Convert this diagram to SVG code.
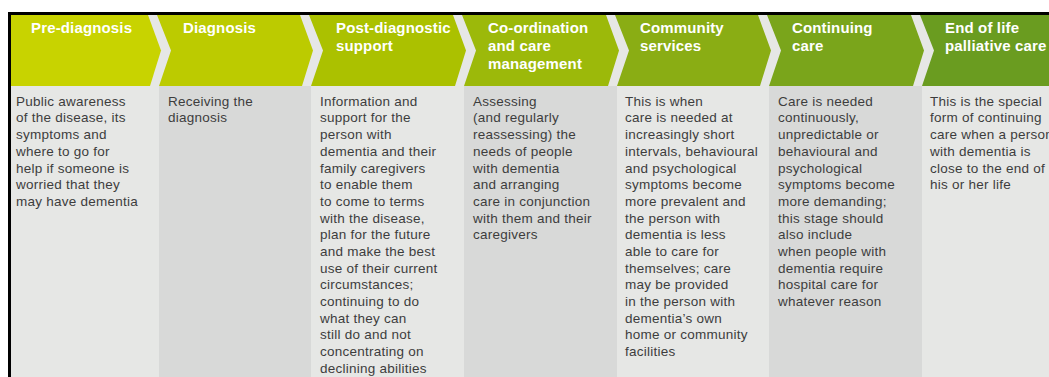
<svg xmlns="http://www.w3.org/2000/svg" width="1049" height="377" viewBox="0 0 1049 377">
  <style>
    .hd { font-family: "Liberation Sans", Arial, sans-serif; font-size: 15px; font-weight: bold; fill: #ffffff; letter-spacing: 0.15px; }
    .bd { font-family: "Liberation Sans", Arial, sans-serif; font-size: 13.5px; fill: #3d3d3d; letter-spacing: 0.25px; }
    .light { fill: #e6e7e5; }
    .dark { fill: #d8d9d8; }
  </style>

  <!-- page background and frame -->
  <rect x="0" y="0" width="1049" height="377" fill="#ffffff"/>
  <rect x="11" y="15" width="1038" height="362" class="light"/>
  <rect x="8" y="12" width="1041" height="3" fill="#000000"/>
  <rect x="8" y="12" width="3" height="365" fill="#000000"/>

  <!-- alternating darker column bodies -->
  <rect x="159" y="86" width="152" height="291" class="dark"/>
  <rect x="464" y="86" width="153" height="291" class="dark"/>
  <rect x="769" y="86" width="153" height="291" class="dark"/>

  <g id="stage-pre-diagnosis">
    <polygon points="11,15 148,15 161,50.5 150,86 11,86" fill="#c8d300"/>
    <text class="hd" x="31" y="33.3">Pre-diagnosis</text>
    <text class="bd" x="16" y="105.7">
      <tspan x="16">Public awareness</tspan>
      <tspan x="16" dy="16.7">of the disease, its</tspan>
      <tspan x="16" dy="16.7">symptoms and</tspan>
      <tspan x="16" dy="16.7">where to go for</tspan>
      <tspan x="16" dy="16.7">help if someone is</tspan>
      <tspan x="16" dy="16.7">worried that they</tspan>
      <tspan x="16" dy="16.7">may have dementia</tspan>
    </text>
  </g>

  <g id="stage-diagnosis">
    <polygon points="157,15 300,15 313,50.5 302,86 159,86 171,50.5" fill="#bccb00"/>
    <text class="hd" x="183" y="33.3">Diagnosis</text>
    <text class="bd" x="168" y="105.7">
      <tspan x="168">Receiving the</tspan>
      <tspan x="168" dy="16.7">diagnosis</tspan>
    </text>
  </g>

  <g id="stage-post-diagnostic">
    <polygon points="309,15 453,15 466,50.5 455,86 311,86 323,50.5" fill="#abc100"/>
    <text class="hd" x="336" y="33.3">
      <tspan x="336">Post-diagnostic</tspan>
      <tspan x="336" dy="18">support</tspan>
    </text>
    <text class="bd" x="320" y="105.7">
      <tspan x="320">Information and</tspan>
      <tspan x="320" dy="16.7">support for the</tspan>
      <tspan x="320" dy="16.7">person with</tspan>
      <tspan x="320" dy="16.7">dementia and their</tspan>
      <tspan x="320" dy="16.7">family caregivers</tspan>
      <tspan x="320" dy="16.7">to enable them</tspan>
      <tspan x="320" dy="16.7">to come to terms</tspan>
      <tspan x="320" dy="16.7">with the disease,</tspan>
      <tspan x="320" dy="16.7">plan for the future</tspan>
      <tspan x="320" dy="16.7">and make the best</tspan>
      <tspan x="320" dy="16.7">use of their current</tspan>
      <tspan x="320" dy="16.7">circumstances;</tspan>
      <tspan x="320" dy="16.7">continuing to do</tspan>
      <tspan x="320" dy="16.7">what they can</tspan>
      <tspan x="320" dy="16.7">still do and not</tspan>
      <tspan x="320" dy="16.7">concentrating on</tspan>
      <tspan x="320" dy="16.7">declining abilities</tspan>
    </text>
  </g>

  <g id="stage-coordination">
    <polygon points="462,15 606,15 619,50.5 608,86 464,86 476,50.5" fill="#9cb90a"/>
    <text class="hd" x="488" y="33.3">
      <tspan x="488">Co-ordination</tspan>
      <tspan x="488" dy="18">and care</tspan>
      <tspan x="488" dy="18">management</tspan>
    </text>
    <text class="bd" x="473" y="105.7">
      <tspan x="473">Assessing</tspan>
      <tspan x="473" dy="16.7">(and regularly</tspan>
      <tspan x="473" dy="16.7">reassessing) the</tspan>
      <tspan x="473" dy="16.7">needs of people</tspan>
      <tspan x="473" dy="16.7">with dementia</tspan>
      <tspan x="473" dy="16.7">and arranging</tspan>
      <tspan x="473" dy="16.7">care in conjunction</tspan>
      <tspan x="473" dy="16.7">with them and their</tspan>
      <tspan x="473" dy="16.7">caregivers</tspan>
    </text>
  </g>

  <g id="stage-community">
    <polygon points="615,15 758,15 771,50.5 760,86 617,86 629,50.5" fill="#8aad14"/>
    <text class="hd" x="640" y="33.3">
      <tspan x="640">Community</tspan>
      <tspan x="640" dy="18">services</tspan>
    </text>
    <text class="bd" x="625" y="105.7">
      <tspan x="625">This is when</tspan>
      <tspan x="625" dy="16.7">care is needed at</tspan>
      <tspan x="625" dy="16.7">increasingly short</tspan>
      <tspan x="625" dy="16.7">intervals, behavioural</tspan>
      <tspan x="625" dy="16.7">and psychological</tspan>
      <tspan x="625" dy="16.7">symptoms become</tspan>
      <tspan x="625" dy="16.7">more prevalent and</tspan>
      <tspan x="625" dy="16.7">the person with</tspan>
      <tspan x="625" dy="16.7">dementia is less</tspan>
      <tspan x="625" dy="16.7">able to care for</tspan>
      <tspan x="625" dy="16.7">themselves; care</tspan>
      <tspan x="625" dy="16.7">may be provided</tspan>
      <tspan x="625" dy="16.7">in the person with</tspan>
      <tspan x="625" dy="16.7">dementia’s own</tspan>
      <tspan x="625" dy="16.7">home or community</tspan>
      <tspan x="625" dy="16.7">facilities</tspan>
    </text>
  </g>

  <g id="stage-continuing-care">
    <polygon points="767,15 911,15 924,50.5 913,86 769,86 781,50.5" fill="#7aa51b"/>
    <text class="hd" x="792" y="33.3">
      <tspan x="792">Continuing</tspan>
      <tspan x="792" dy="18">care</tspan>
    </text>
    <text class="bd" x="778" y="105.7">
      <tspan x="778">Care is needed</tspan>
      <tspan x="778" dy="16.7">continuously,</tspan>
      <tspan x="778" dy="16.7">unpredictable or</tspan>
      <tspan x="778" dy="16.7">behavioural and</tspan>
      <tspan x="778" dy="16.7">psychological</tspan>
      <tspan x="778" dy="16.7">symptoms become</tspan>
      <tspan x="778" dy="16.7">more demanding;</tspan>
      <tspan x="778" dy="16.7">this stage should</tspan>
      <tspan x="778" dy="16.7">also include</tspan>
      <tspan x="778" dy="16.7">when people with</tspan>
      <tspan x="778" dy="16.7">dementia require</tspan>
      <tspan x="778" dy="16.7">hospital care for</tspan>
      <tspan x="778" dy="16.7">whatever reason</tspan>
    </text>
  </g>

  <g id="stage-end-of-life">
    <polygon points="920,15 1049,15 1049,86 922,86 934,50.5" fill="#6a9c20"/>
    <text class="hd" x="945" y="33.3">
      <tspan x="945">End of life</tspan>
      <tspan x="945" dy="18">palliative care</tspan>
    </text>
    <text class="bd" x="930" y="105.7">
      <tspan x="930">This is the special</tspan>
      <tspan x="930" dy="16.7">form of continuing</tspan>
      <tspan x="930" dy="16.7">care when a person</tspan>
      <tspan x="930" dy="16.7">with dementia is</tspan>
      <tspan x="930" dy="16.7">close to the end of</tspan>
      <tspan x="930" dy="16.7">his or her life</tspan>
    </text>
  </g>
</svg>
